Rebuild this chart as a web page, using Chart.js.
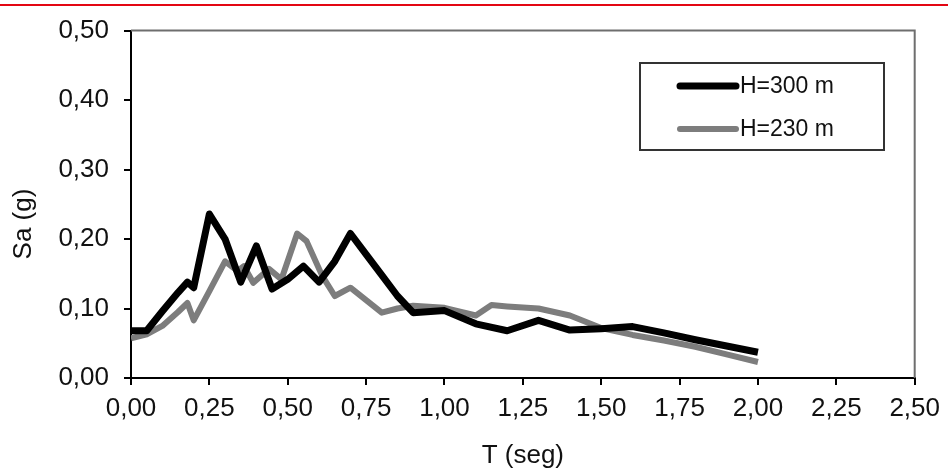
<!DOCTYPE html>
<html>
<head>
<meta charset="utf-8">
<script src="https://cdn.jsdelivr.net/npm/chart.js@4"></script>
<style>
  html, body { margin: 0; padding: 0; background: #fff; }
  canvas { display: block; }
</style>
</head>
<body>
<canvas id="chart" width="948" height="468"></canvas>
<script>
// spectra
const periodH300 = [0, 0.05, 0.10, 0.15, 0.18, 0.20, 0.25, 0.30, 0.35, 0.40, 0.45, 0.50, 0.55, 0.60, 0.65, 0.70, 0.75, 0.80, 0.85, 0.90, 1.00, 1.10, 1.20, 1.30, 1.40, 1.50, 1.60, 1.70, 1.80, 1.90, 2.00];
const saH300     = [0.068, 0.068, 0.096, 0.123, 0.138, 0.130, 0.236, 0.200, 0.138, 0.190, 0.128, 0.142, 0.161, 0.138, 0.168, 0.208, 0.178, 0.148, 0.118, 0.094, 0.097, 0.078, 0.068, 0.083, 0.069, 0.071, 0.074, 0.065, 0.055, 0.046, 0.037];

const periodH230 = [0, 0.05, 0.10, 0.15, 0.18, 0.20, 0.25, 0.30, 0.34, 0.36, 0.39, 0.44, 0.48, 0.53, 0.56, 0.61, 0.65, 0.70, 0.75, 0.80, 0.85, 0.90, 1.00, 1.10, 1.15, 1.20, 1.30, 1.40, 1.50, 1.60, 1.70, 1.80, 1.90, 2.00];
const saH230     = [0.057, 0.063, 0.075, 0.095, 0.108, 0.083, 0.125, 0.168, 0.154, 0.161, 0.137, 0.157, 0.142, 0.208, 0.197, 0.147, 0.118, 0.130, 0.112, 0.094, 0.100, 0.104, 0.101, 0.090, 0.105, 0.103, 0.100, 0.090, 0.072, 0.062, 0.054, 0.045, 0.034, 0.023];

const seriesLabels = ['H=300 m', 'H=230 m'];
const xTickLabels = ['0,00', '0,25', '0,50', '0,75', '1,00', '1,25', '1,50', '1,75', '2,00', '2,25', '2,50'];
const yTickLabels = ['0,00', '0,10', '0,20', '0,30', '0,40', '0,50'];
const xTitle = 'T (seg)';
const yTitle = 'Sa (g)';

const FONT = 'Liberation Sans, Arial, sans-serif';

function toPoints(xs, ys) {
    return xs.map((x, i) => ({ x: x, y: ys[i] }));
}

// red rule at the top, frame, axis titles and the boxed legend
const decor = {
    id: 'decor',
    beforeDraw(chart) {
        const ctx = chart.ctx;
        ctx.save();
        ctx.fillStyle = '#fff';
        ctx.fillRect(0, 0, chart.width, chart.height);
        ctx.fillStyle = '#e30613';
        ctx.fillRect(0, 4, chart.width, 2);
        ctx.restore();
    },
    afterDraw(chart) {
        const ctx = chart.ctx;
        const a = chart.chartArea;
        ctx.save();

        // top + right frame of the plot
        ctx.strokeStyle = '#6e6e6e';
        ctx.lineWidth = 2;
        ctx.beginPath();
        ctx.moveTo(a.left, a.top);
        ctx.lineTo(a.right, a.top);
        ctx.lineTo(a.right, a.bottom);
        ctx.stroke();

        // axis titles
        ctx.fillStyle = '#111';
        ctx.font = '26px ' + FONT;
        ctx.textAlign = 'center';
        ctx.textBaseline = 'middle';
        ctx.fillText(xTitle, (a.left + a.right) / 2, 456);
        ctx.translate(24, 224);
        ctx.rotate(-Math.PI / 2);
        ctx.fillText(yTitle, 0, 0);
        ctx.setTransform(1, 0, 0, 1, 0, 0);

        // legend box
        ctx.strokeStyle = '#333';
        ctx.lineWidth = 2;
        ctx.strokeRect(640, 63, 244, 87);
        ctx.font = '23px ' + FONT;
        ctx.textAlign = 'left';
        const rows = [86, 129];
        chart.data.datasets.forEach((ds, i) => {
            ctx.strokeStyle = ds.borderColor;
            ctx.lineWidth = ds.borderWidth;
            ctx.lineCap = 'round';
            ctx.beginPath();
            ctx.moveTo(680, rows[i]);
            ctx.lineTo(736, rows[i]);
            ctx.stroke();
            ctx.fillStyle = '#111';
            ctx.fillText(ds.label, 740, rows[i] + 1);
        });
        ctx.restore();
    }
};

const ctx = document.getElementById('chart').getContext('2d');
new Chart(ctx, {
    type: 'line',
    data: {
        datasets: [
            { label: seriesLabels[0], data: toPoints(periodH300, saH300), borderColor: '#000000', borderWidth: 7, pointRadius: 0, tension: 0, borderJoinStyle: 'round', fill: false },
            { label: seriesLabels[1], data: toPoints(periodH230, saH230), borderColor: '#7d7d7d', borderWidth: 6, pointRadius: 0, tension: 0, borderJoinStyle: 'round', fill: false }
        ]
    },
    options: {
        responsive: false,
        animation: false,
        layout: { padding: { top: 28, right: 29, left: 0, bottom: 0 } },
        plugins: { legend: { display: false }, tooltip: { enabled: false } },
        scales: {
            x: {
                type: 'linear',
                min: 0, max: 2.5,
                afterFit: s => { s.height = 90; },
                border: { color: '#000', width: 2 },
                grid: { drawOnChartArea: false, drawTicks: true, tickLength: 7, color: '#000', lineWidth: 2 },
                ticks: {
                    stepSize: 0.25,
                    padding: 8,
                    color: '#111',
                    font: { family: FONT, size: 26 },
                    maxRotation: 0,
                    autoSkip: false,
                    callback: (v, i) => xTickLabels[i]
                }
            },
            y: {
                min: 0, max: 0.5,
                afterFit: s => { s.width = 131; },
                border: { color: '#000', width: 2 },
                grid: { drawOnChartArea: false, drawTicks: true, tickLength: 7, color: '#000', lineWidth: 2 },
                ticks: {
                    stepSize: 0.1,
                    padding: 15,
                    color: '#111',
                    font: { family: FONT, size: 26 },
                    callback: (v, i) => yTickLabels[i]
                }
            }
        }
    },
    plugins: [decor]
});
</script>
</body>
</html>
